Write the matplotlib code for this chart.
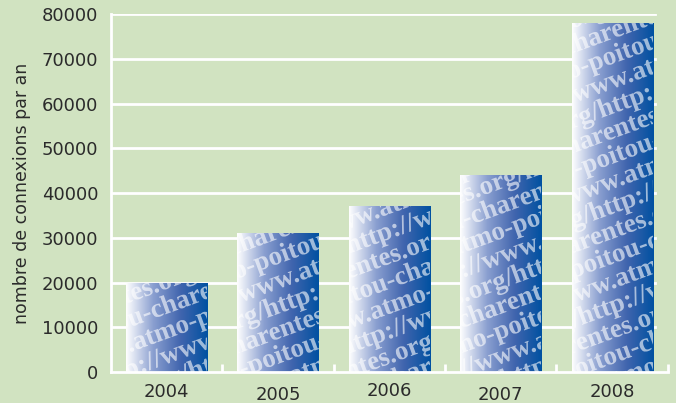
import numpy as np
import matplotlib
matplotlib.use("Agg")
import matplotlib.pyplot as plt
from matplotlib.colors import LinearSegmentedColormap
from matplotlib.textpath import TextPath
from matplotlib.patches import PathPatch
from matplotlib.font_manager import FontProperties
from matplotlib.transforms import Affine2D, ScaledTranslation

years = ["2004", "2005", "2006", "2007", "2008"]
connexions = [20000, 31000, 37000, 44000, 78000]
yticks = [0, 10000, 20000, 30000, 40000, 50000, 60000, 70000, 80000]

bg = "#d1e3c1"
txt = "#2b2b2b"
motif = "www.atmo-poitou-charentes.org/http://"

fig = plt.figure(figsize=(6.76, 4.03), dpi=100, facecolor=bg)
ax = fig.add_axes([0.164, 0.077, 0.824, 0.888], facecolor=bg)

x = np.arange(len(years))
ax.set_xlim(-0.5, len(years) - 0.5)
ax.set_ylim(0, 80000)

# grille blanche (s'arrete un peu avant le bord droit)
for t in yticks[1:]:
    ax.axhline(t, xmin=0, xmax=0.977, color="white", lw=2, zorder=0)

bars = ax.bar(x, connexions, width=0.73, color="none", edgecolor="none", zorder=2)

cmap = LinearSegmentedColormap.from_list("g", ["#ffffff", "#8a9fd0", "#4165ae", "#0051a1"])
grad = np.linspace(0, 1, 256).reshape(1, -1)
fp = FontProperties(family="Liberation Serif", weight="bold")

for i, b in enumerate(bars):
    x0, w, h = b.get_x(), b.get_width(), b.get_height()
    im = ax.imshow(grad, cmap=cmap, aspect="auto", extent=(x0, x0 + w, 0, h),
                   origin="lower", zorder=2, interpolation="bilinear")
    im.set_clip_path(b)
    # texte en filigrane, en pixels
    px0, py0 = ax.transData.transform((x0, 0))
    px1, py1 = ax.transData.transform((x0 + w, h))
    n = int((py1 - py0) / 25) + 4
    for k in range(-3, n):
        s = (motif * 3)[(k * 9 + i * 13) % len(motif):][:26]
        tp = TextPath((0, 0), s, size=27, prop=fp)
        tr = Affine2D().rotate_deg(20).translate(px0 - 50, py0 + k * 25)
        pp = PathPatch(tp, transform=tr, facecolor="white", edgecolor="none",
                       alpha=0.6, zorder=3)
        ax.add_artist(pp)
        pp.set_clip_path(b)

for s in ["top", "right"]:
    ax.spines[s].set_visible(False)
for s in ["left", "bottom"]:
    ax.spines[s].set_color("white")
    ax.spines[s].set_linewidth(2)
    ax.spines[s].set_zorder(4)

ax.set_yticks(yticks)
ax.set_yticklabels([str(v) for v in yticks])
ax.set_xticks(x)
ax.set_xticklabels(years)
ax.set_xticks(x + 0.5, minor=True)
ax.tick_params(axis="x", which="major", length=0, pad=8, labelsize=13, labelcolor=txt)
ax.tick_params(axis="x", which="minor", direction="in", length=6, width=2, color="white")
ax.tick_params(axis="y", length=0, pad=9, labelsize=13, labelcolor=txt)
ax.set_ylabel("nombre de connexions par an", fontsize=12.5, color=txt, labelpad=8)

# etiquettes des annees legerement decalees comme sur l'original
for lab, dy in zip(ax.get_xticklabels(), [0, -2.4, 0.5, -2.4, 0.3]):
    lab.set_transform(lab.get_transform() + ScaledTranslation(0, dy / 72, fig.dpi_scale_trans))

fig.savefig("out.png", dpi=100, facecolor=bg)
